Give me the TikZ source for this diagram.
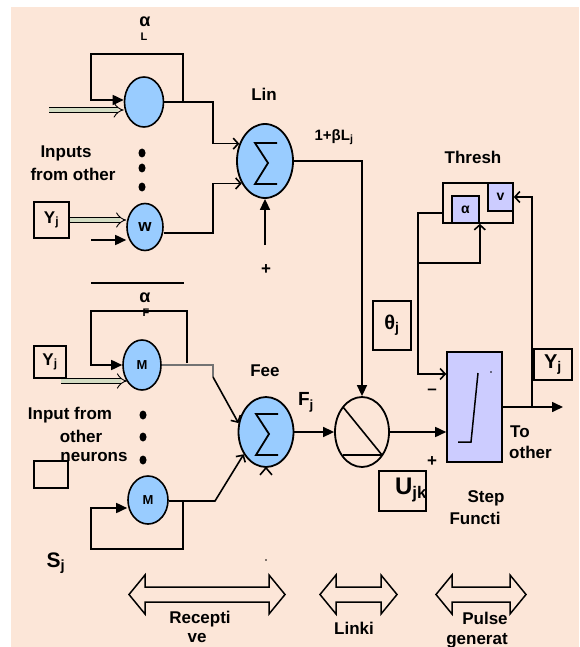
\documentclass[tikz,border=0pt]{standalone}
\usepackage{fontspec}
\setmainfont{Liberation Sans}
\usetikzlibrary{shapes.geometric,arrows.meta}
\definecolor{bgpeach}{HTML}{FCE6D8}
\definecolor{cblue}{HTML}{99CCFF}
\definecolor{lav}{HTML}{CCCCFF}
\definecolor{pipec}{HTML}{D3DCC3}
\newcommand\myfs[1]{\fontsize{#1}{#1}\selectfont}
\newcommand\bigdarrow[2]{\draw[bigarrow] (#1,594.5) -- (#1+16,575) -- (#1+16,587) -- (#2-16,587) -- (#2-16,575) -- (#2,594.5) -- (#2-16,614) -- (#2-16,602) -- (#1+16,602) -- (#1+16,614) -- cycle;}
\begin{document}
\begin{tikzpicture}[x=1pt,y=-1pt,
  every node/.style={inner sep=0pt, font=\bfseries\myfs{17}},
  wire/.style={line width=1.6pt},
  neuron/.style={ellipse, draw, line width=1.6pt, fill=cblue},
  summer/.style={ellipse, draw, line width=1.8pt, fill=cblue, minimum width=56pt, minimum height=74pt},
  lbox/.style={draw, line width=1.6pt, rectangle},
  fa/.style={-{Triangle[length=11pt,width=10pt]}},
  oa/.style={-{Straight Barb[length=5pt,width=11pt]}},
  pipe/.style={line width=0.9pt, double=pipec, double distance=4.5pt, -{Implies}},
  bigarrow/.style={line width=1.5pt, line join=miter},
  dotm/.style={fill, ellipse, minimum width=7pt, minimum height=9pt}
]
\useasboundingbox (0,0) rectangle (579,647);
\fill[bgpeach] (11,7) rectangle (579,647);

% ---- nodes ----
\node[neuron, minimum width=39pt, minimum height=50pt] (c1) at (144,102) {};
\node[neuron, minimum width=36pt, minimum height=47pt] (cw) at (145,227) {w};
\node[neuron, minimum width=38pt, minimum height=50pt, font=\bfseries\myfs{13}] (m1) at (142,365) {M};
\node[neuron, minimum width=40pt, minimum height=48pt, font=\bfseries\myfs{13}] (m2) at (148,500) {M};
\node[summer] (sumL) at (265,161) {};
\node[summer, minimum width=55pt, minimum height=70pt] (sumF) at (266,432) {};
\node[ellipse, draw, line width=1.8pt, minimum width=54pt, minimum height=70pt] (lnk) at (362,432) {};
\node[lbox, fill=lav, minimum width=55pt, minimum height=110pt] (step) at (474.5,407) {};
\node[lbox, minimum width=70pt, minimum height=40pt] (thO) at (478,203) {};
\node[lbox, fill=lav, minimum width=27pt, minimum height=27pt, font=\bfseries\myfs{14}] (thA) at (465.5,209.5) {α};
\node[lbox, fill=lav, minimum width=25pt, minimum height=28pt, font=\bfseries\myfs{14}] (thV) at (500.5,197) {v};

\node[lbox, minimum width=35pt, minimum height=36pt] (yj1) at (51.5,220) {Y\textsubscript{j}};
\node[lbox, minimum width=32pt, minimum height=32pt] (yj2) at (50,362) {Y\textsubscript{j}};
\node[lbox, minimum width=38pt, minimum height=31pt, font=\bfseries\myfs{20}] (yj3) at (553,364.5) {Y\textsubscript{j}};
\node[lbox, minimum width=38pt, minimum height=49pt, font=\bfseries\myfs{20}] (thb) at (392,325.5) {θ\textsubscript{j}};
\node[lbox, minimum width=47pt, minimum height=40pt] (ub) at (402.5,491) {};
\node[font=\bfseries\myfs{24}] (ut) at (411,490) {U\textsubscript{jk}};
\node[lbox, minimum width=34pt, minimum height=27pt] (eb) at (51,474.5) {};

% ---- text labels ----
\node[font=\bfseries\myfs{18}] (aL) at (145,22) {α};
\node[font=\bfseries\myfs{11}] (aLs) at (144,37) {L};
\node (tLin) at (264,94) {Lin};
\node[font=\bfseries\myfs{15}] (tbeta) at (334,137) {1+βL\textsubscript{j}};
\node (tThr) at (473,157) {Thresh};
\node (tIn1) at (66,153) {Inputs};
\node (tIn2) at (73,174) {from other};
\node (tplus1) at (266,270) {+};
\node[font=\bfseries\myfs{18}] (aF) at (145,298) {α};
\node[font=\bfseries\myfs{11}] (aFs) at (146,313) {F};
\node (tFee) at (265,371) {Fee};
\node[font=\bfseries\myfs{19}] (tFj) at (306,402) {F\textsubscript{j}};
\node (tminus) at (432,392) {–};
\node (tplus2) at (432,462) {+};
\node[anchor=west] (tTo) at (510,432) {To};
\node[anchor=west] (tOther) at (509,452) {other};
\node (tStep) at (486,498) {Step};
\node (tFun) at (475,518) {Functi};
\node[font=\bfseries\myfs{21}] (tSj) at (56,563) {S\textsubscript{j}};
\node (tIf1) at (70,415) {Input from};
\node (tIf2) at (81,436) {other};
\node (tIf3) at (94,457) {neurons};
\node (tRec1) at (200,619) {Recepti};
\node (tRec2) at (197,638) {ve};
\node (tLink) at (354,628) {Linki};
\node (tPul1) at (485,618) {Pulse};
\node (tPul2) at (477,641) {generat};

% dots
\node[dotm] (d1) at (142,153) {};
\node[dotm] (d2) at (142,168) {};
\node[dotm] (d3) at (142,187) {};
\node[dotm] (d4) at (143,415) {};
\node[dotm] (d5) at (143,437) {};
\node[dotm] (d6) at (143,460) {};

% ---- coordinates ----
\coordinate (k1) at (183,102);
\coordinate (k2) at (183,54);
\coordinate (k3) at (91,54);
\coordinate (k4) at (91,100);
\coordinate (p1) at (49,110);
\coordinate (j1) at (213,102);
\coordinate (p2) at (91,240);
\coordinate (j2) at (213,233);
\coordinate (p3) at (265,245);
\coordinate (s1) at (91,283);
\coordinate (s2) at (184,283);
\coordinate (k5) at (187,363);
\coordinate (k6) at (187,311);
\coordinate (k7) at (91,311);
\coordinate (k8) at (91,365);
\coordinate (p4) at (61,381);
\coordinate (p4e) at (127,381);
\coordinate (j3) at (213,365);
\coordinate (j4) at (213,377);
\coordinate (k9) at (183,501);
\coordinate (k10) at (183,549);
\coordinate (k11) at (91,549);
\coordinate (k12) at (91,508);
\coordinate (j5) at (215,501);
\coordinate (yo) at (563,407);
\coordinate (f1) at (532,407);
\coordinate (t1) at (418,213);
\coordinate (t2) at (418,374);
\coordinate (t3) at (418,263);

% ---- connectors ----
\draw[wire, fa] (k1) -- (k2) -- (k3) -- (k4) -- (k4 -| c1.west);
\draw[pipe] (p1) -- (p1 -| c1.west);
\draw[wire, oa] (c1.east) -- (j1) |- (sumL.146);
\draw[pipe] (yj1.east) -- (yj1.east -| cw.west);
\draw[wire, fa] (p2) -- (p2 -| cw.west);
\draw[wire, oa] (j2 -| cw.east) -- (j2) |- (sumL.224);
\draw[wire, fa] (p3) -- (sumL.south);
\draw[wire] (s1) -- (s2);

\draw[wire, fa] (k5) -- (k6) -- (k7) -- (k8) -- (m1.west);
\draw[pipe] (p4) -- (p4e);
\draw[line width=1.2pt, black!55] (m1.east) -- (j3) -- (j4);
\draw[wire, oa] (j4) -- (sumF.162);
\draw[wire, fa] (k9) -- (k10) -- (k11) -- (k12) -- (k12 -| m2.west);
\draw[wire, oa] (j5 -| m2.east) -- (j5) -- (sumF.225);
\draw[wire] (sumF.south) ++(-6,7) -- (sumF.south) -- ++(6,7);

\draw[wire, fa] (sumL.east) -| (lnk.north);
\draw[wire, fa] (sumF.east) -- (lnk.west);
\draw[wire, fa] (lnk.east) -- (lnk.east -| step.west);
\draw[wire, fa] (step.east) -- (yo);
\draw[wire, oa] (f1) |- (thV.east);
\draw[wire, oa] (t1 -| thO.west) -- (t1) -- (t2) -- (t2 -| step.west);
\draw[wire, oa] (t3) -| (thA.south east);

% sigma marks and inner strokes
\draw[line width=1.8pt] (sumL.center) ++(12,-18) -- ++(-22,0) -- ++(13,20) -- ++(-13,21) -- ++(22,0);
\draw[line width=1.8pt] (sumF.center) ++(12,-18) -- ++(-22,0) -- ++(13,20) -- ++(-13,21) -- ++(22,0);
\draw[wire] (lnk.center) ++(-19,-25) -- ++(39,48);
\draw[wire] (lnk.center) ++(-19,23) -- ++(39,0);
\draw[line width=1.5pt] (step.center) ++(-16.5,35) -- ++(13,0) -- ++(7,-69);
\fill (491,372) circle (0.8pt);
\fill (266,560) circle (0.8pt);

% big double arrows
\bigdarrow{129}{285}
\bigdarrow{320}{397}
\bigdarrow{436}{526}
\end{tikzpicture}
\end{document}
